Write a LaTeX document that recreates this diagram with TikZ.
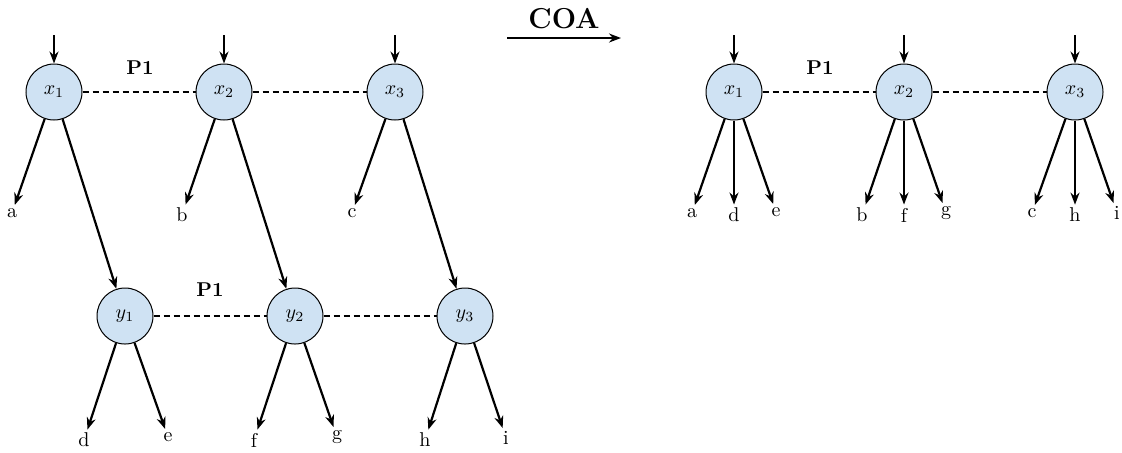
\documentclass[tikz,border=0pt]{standalone}
\usetikzlibrary{arrows.meta}
\definecolor{nodefill}{RGB}{207,226,243}
\begin{document}
\begin{tikzpicture}[x=0.5pt,y=-0.5pt,
  var/.style={circle,draw=black,line width=0.5pt,fill=nodefill,minimum size=28pt,inner sep=0pt,font=\normalsize},
  lbl/.style={inner sep=1.5pt,font=\normalsize},
  arr/.style={-{Stealth[length=6pt,width=4.5pt]},line width=1.1pt},
  link/.style={line width=1.1pt,dash pattern=on 3pt off 2pt},
  plab/.style={font=\normalsize\bfseries}]
\useasboundingbox (0,0) rectangle (1122,452);
% left top row
\node[var] (x1) at (54,92) {$x_1$};
\node[var] (x2) at (224,92) {$x_2$};
\node[var] (x3) at (395,92) {$x_3$};
\node[var] (y1) at (125,316) {$y_1$};
\node[var] (y2) at (295,316) {$y_2$};
\node[var] (y3) at (465,316) {$y_3$};
\coordinate (ix1) at (54,35);
\coordinate (ix2) at (224,35);
\coordinate (ix3) at (395,35);
\draw[arr] (ix1) -- (x1);
\draw[arr] (ix2) -- (x2);
\draw[arr] (ix3) -- (x3);
\draw[link] (x1) -- (x2);
\draw[link] (x2) -- (x3);
\draw[link] (y1) -- (y2);
\draw[link] (y2) -- (y3);
\node[plab] (p1a) at (140,68) {P1};
\node[plab] (p1b) at (210,290) {P1};
\node[lbl] (la) at (12,213) {a};
\node[lbl] (lb) at (182,215) {b};
\node[lbl] (lc) at (352,213) {c};
\draw[arr] (x1) -- (la);
\draw[arr] (x2) -- (lb);
\draw[arr] (x3) -- (lc);
\draw[arr] (x1) -- (y1);
\draw[arr] (x2) -- (y2);
\draw[arr] (x3) -- (y3);
\node[lbl] (ld) at (84,440) {d};
\node[lbl] (le) at (168,437) {e};
\node[lbl] (lf) at (254,440) {f};
\node[lbl] (lg) at (337,437) {g};
\node[lbl] (lh) at (425,440) {h};
\node[lbl] (li) at (506,438) {i};
\draw[arr] (y1) -- (ld);
\draw[arr] (y1) -- (le);
\draw[arr] (y2) -- (lf);
\draw[arr] (y2) -- (lg);
\draw[arr] (y3) -- (lh);
\draw[arr] (y3) -- (li);
% COA
\coordinate (coas) at (507,38);
\coordinate (coae) at (621,38);
\draw[-{Stealth[length=6pt,width=4.5pt]},line width=0.9pt] (coas) -- node[above=1pt,font=\Large\bfseries] (coa) {COA} (coae);
% right
\node[var] (rx1) at (734,92) {$x_1$};
\node[var] (rx2) at (904,92) {$x_2$};
\node[var] (rx3) at (1075,92) {$x_3$};
\coordinate (rix1) at (734,35);
\coordinate (rix2) at (904,35);
\coordinate (rix3) at (1075,35);
\draw[arr] (rix1) -- (rx1);
\draw[arr] (rix2) -- (rx2);
\draw[arr] (rix3) -- (rx3);
\draw[link] (rx1) -- (rx2);
\draw[link] (rx2) -- (rx3);
\node[plab] (p1c) at (820,68) {P1};
\node[lbl] (ra) at (692,213) {a};
\node[lbl] (rd) at (734,215) {d};
\node[lbl] (re) at (776,212) {e};
\node[lbl] (rb) at (862,215) {b};
\node[lbl] (rf) at (904,215) {f};
\node[lbl] (rg) at (946,213) {g};
\node[lbl] (rc) at (1032,213) {c};
\node[lbl] (rh) at (1075,215) {h};
\node[lbl] (ri) at (1117,213) {i};
\foreach \s/\t in {rx1/ra,rx1/rd,rx1/re,rx2/rb,rx2/rf,rx2/rg,rx3/rc,rx3/rh,rx3/ri}
  \draw[arr] (\s) -- (\t);
\end{tikzpicture}
\end{document}
